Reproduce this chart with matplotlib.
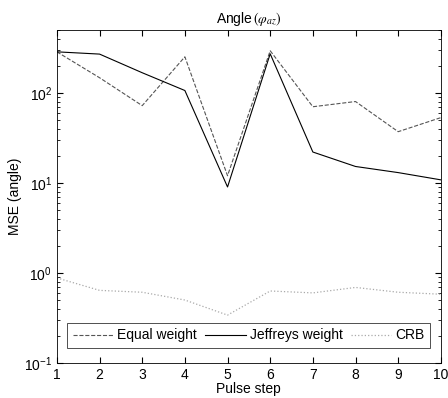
import matplotlib
matplotlib.use("Agg")
import matplotlib.pyplot as plt
import numpy as np

pulse_step = [1, 2, 3, 4, 5, 6, 7, 8, 9, 10]
equal_weight = [285, 147, 72, 251, 12, 293, 70, 80, 37, 53]
jeffreys_weight = [285, 269, 167, 106, 9.0, 271, 22, 15.2, 13, 10.8]
crb = [0.88, 0.64, 0.61, 0.50, 0.34, 0.63, 0.60, 0.69, 0.61, 0.58]

plt.rcParams['font.family'] = ['Liberation Sans', 'DejaVu Sans']
plt.rcParams['mathtext.fontset'] = 'stix'

fig = plt.figure(figsize=(4.48, 3.98), dpi=100)
ax = fig.add_axes([0.127, 0.088, 0.857, 0.837])

ax.plot(pulse_step, equal_weight, '--', color='#555555', lw=0.8, label='Equal weight')
ax.plot(pulse_step, jeffreys_weight, '-', color='black', lw=0.8, label='Jeffreys weight')
ax.plot(pulse_step, crb, ':', color='#aaaaaa', lw=0.9, label='CRB')

ax.set_yscale('log')
ax.set_xlim(1, 10)
ax.set_ylim(0.1, 500)
ax.set_xticks(pulse_step)
ax.tick_params(which='both', direction='in', top=True, right=True, labelsize=10)
ax.tick_params(which='major', length=4)
ax.tick_params(which='minor', length=2)
for s in ax.spines.values():
    s.set_linewidth(0.6)

ax.set_xlabel('Pulse step', fontsize=10, labelpad=0)
ax.set_ylabel('MSE (angle)', fontsize=10, labelpad=1)
ax.set_title(r'Angle$\,(\varphi_{az})$', fontsize=10, pad=5)

leg = ax.legend(loc='lower center', ncol=3, fontsize=10, frameon=True, fancybox=False,
                edgecolor='black', borderpad=0.4, handlelength=2.9, handletextpad=0.3,
                columnspacing=0.6, borderaxespad=0, bbox_to_anchor=(0.5, 0.045))
leg.get_frame().set_linewidth(0.6)

fig.savefig('out.png', dpi=100)
